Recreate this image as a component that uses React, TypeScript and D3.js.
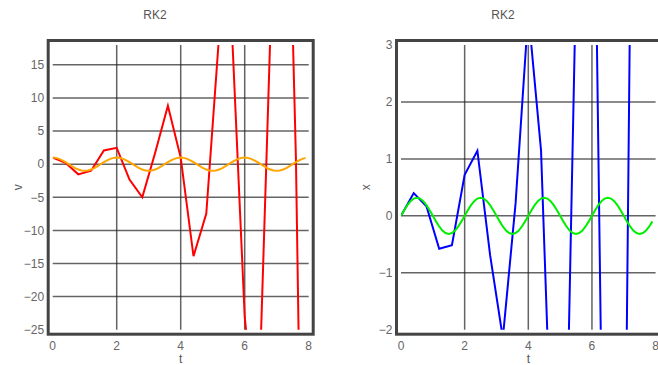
import { useEffect, useRef } from 'react';
import * as d3 from 'd3';

// RK2 samples, h = 0.4
const stepT = [0, 0.4, 0.8, 1.2, 1.6, 2.0, 2.4, 2.8, 3.2, 3.6, 4.0, 4.4, 4.8, 5.2, 5.6, 6.0, 6.4, 6.8, 7.2, 7.6, 8.0];
const rk2V = [1, 0.21, -1.535, -0.988, 2.076, 2.477, -2.328, -5.001, 1.674, 8.823, 0.995, -13.905, -7.468, 19.431, 20.301, -23.0, -42.637, 19.395, 77.38, 1.08, -125.165];
const rk2X = [0, 0.4, 0.168, -0.579, -0.517, 0.722, 1.143, -0.691, -2.146, 0.218, 3.575, 1.15, -5.32, -4.107, 6.908, 9.574, -7.185, -18.567, 3.851, 31.762, 7.116];

// reference curve, t = 0 .. 7.9 every 0.1
const fineT = [
  0, 0.1, 0.2, 0.3, 0.4, 0.5, 0.6, 0.7, 0.8, 0.9, 1.0, 1.1, 1.2, 1.3, 1.4, 1.5, 1.6, 1.7, 1.8, 1.9,
  2.0, 2.1, 2.2, 2.3, 2.4, 2.5, 2.6, 2.7, 2.8, 2.9, 3.0, 3.1, 3.2, 3.3, 3.4, 3.5, 3.6, 3.7, 3.8, 3.9,
  4.0, 4.1, 4.2, 4.3, 4.4, 4.5, 4.6, 4.7, 4.8, 4.9, 5.0, 5.1, 5.2, 5.3, 5.4, 5.5, 5.6, 5.7, 5.8, 5.9,
  6.0, 6.1, 6.2, 6.3, 6.4, 6.5, 6.6, 6.7, 6.8, 6.9, 7.0, 7.1, 7.2, 7.3, 7.4, 7.5, 7.6, 7.7, 7.8, 7.9,
];
const exactV = [
  1, 0.951, 0.809, 0.588, 0.309, 0, -0.309, -0.588, -0.809, -0.951, -1, -0.951, -0.809, -0.588, -0.309, 0, 0.309, 0.588, 0.809, 0.951,
  1, 0.951, 0.809, 0.588, 0.309, 0, -0.309, -0.588, -0.809, -0.951, -1, -0.951, -0.809, -0.588, -0.309, 0, 0.309, 0.588, 0.809, 0.951,
  1, 0.951, 0.809, 0.588, 0.309, 0, -0.309, -0.588, -0.809, -0.951, -1, -0.951, -0.809, -0.588, -0.309, 0, 0.309, 0.588, 0.809, 0.951,
  1, 0.951, 0.809, 0.588, 0.309, 0, -0.309, -0.588, -0.809, -0.951, -1, -0.951, -0.809, -0.588, -0.309, 0, 0.309, 0.588, 0.809, 0.951,
];
const exactX = [
  0, 0.098, 0.187, 0.258, 0.303, 0.318, 0.303, 0.258, 0.187, 0.098, 0, -0.098, -0.187, -0.258, -0.303, -0.318, -0.303, -0.258, -0.187, -0.098,
  0, 0.098, 0.187, 0.258, 0.303, 0.318, 0.303, 0.258, 0.187, 0.098, 0, -0.098, -0.187, -0.258, -0.303, -0.318, -0.303, -0.258, -0.187, -0.098,
  0, 0.098, 0.187, 0.258, 0.303, 0.318, 0.303, 0.258, 0.187, 0.098, 0, -0.098, -0.187, -0.258, -0.303, -0.318, -0.303, -0.258, -0.187, -0.098,
  0, 0.098, 0.187, 0.258, 0.303, 0.318, 0.303, 0.258, 0.187, 0.098, 0, -0.098, -0.187, -0.258, -0.303, -0.318, -0.303, -0.258, -0.187, -0.098,
];

const tTicks = [0, 2, 4, 6, 8];
const vTicks = [15, 10, 5, 0, -5, -10, -15, -20, -25];
const xTicks = [3, 2, 1, 0, -1, -2];

const FONT = '"Liberation Sans", Arial, sans-serif';

interface PanelSpec {
  id: string;
  left: number;
  right: number;
  yDomain: [number, number];
  yTicks: number[];
  yLabel: string;
  titleX: number;
  approx: number[];
  exact: number[];
  approxColor: string;
  exactColor: string;
}

const panels: PanelSpec[] = [
  {
    id: 'v', left: 52.7, right: 308.7, yDomain: [-25, 18], yTicks: vTicks, yLabel: 'v', titleX: 155,
    approx: rk2V, exact: exactV, approxColor: '#ff0000', exactColor: '#ffa500',
  },
  {
    id: 'x', left: 401, right: 655.6, yDomain: [-2, 3], yTicks: xTicks, yLabel: 'x', titleX: 503,
    approx: rk2X, exact: exactX, approxColor: '#0000ff', exactColor: '#00ee00',
  },
];

const top = 45;
const bottom = 329.7;
const pad = 4.5;

export default function App() {
  const ref = useRef<SVGSVGElement>(null);

  useEffect(() => {
    const svgElement = ref.current;
    if (!svgElement) return;
    const svg = d3.select(svgElement);
    svg.selectAll('*').remove();

    for (const p of panels) {
      const x = d3.scaleLinear().domain([0, 8]).range([p.left, p.right]);
      const y = d3.scaleLinear().domain(p.yDomain).range([bottom, top]);
      const g = svg.append('g');

      g.append('clipPath')
        .attr('id', `clip-${p.id}`)
        .append('rect')
        .attr('x', p.left)
        .attr('y', top)
        .attr('width', p.right - p.left)
        .attr('height', bottom - top);

      // grid, interior ticks only
      const lo = p.yDomain[0];
      const hi = p.yDomain[1];
      g.append('g')
        .selectAll('line')
        .data(p.yTicks.filter((d) => d > lo && d < hi))
        .join('line')
        .attr('x1', p.left)
        .attr('x2', p.right)
        .attr('y1', (d) => y(d))
        .attr('y2', (d) => y(d))
        .attr('stroke', '#222')
        .attr('stroke-opacity', 0.7)
        .attr('stroke-width', 1.5);
      g.append('g')
        .selectAll('line')
        .data(tTicks.filter((d) => d > 0 && d < 8))
        .join('line')
        .attr('x1', (d) => x(d))
        .attr('x2', (d) => x(d))
        .attr('y1', top)
        .attr('y2', bottom)
        .attr('stroke', '#222')
        .attr('stroke-opacity', 0.7)
        .attr('stroke-width', 1.5);

      const exactLine = d3
        .line<number>()
        .x((_d, i) => x(fineT[i]))
        .y((d) => y(d));
      const approxLine = d3
        .line<number>()
        .x((_d, i) => x(stepT[i]))
        .y((d) => y(d));

      const lines = g.append('g').attr('clip-path', `url(#clip-${p.id})`);
      lines.append('path')
        .attr('d', approxLine(p.approx))
        .attr('fill', 'none')
        .attr('stroke', p.approxColor)
        .attr('stroke-width', 2);
      lines.append('path')
        .attr('d', exactLine(p.exact))
        .attr('fill', 'none')
        .attr('stroke', p.exactColor)
        .attr('stroke-width', 2);

      // frame
      g.append('rect')
        .attr('x', p.left - pad)
        .attr('y', top - pad)
        .attr('width', p.right - p.left + 2 * pad)
        .attr('height', bottom - top + 2 * pad)
        .attr('fill', 'none')
        .attr('stroke', '#444')
        .attr('stroke-width', 3);

      // tick labels
      g.append('g')
        .selectAll('text')
        .data(p.yTicks)
        .join('text')
        .attr('x', p.left - pad - 4)
        .attr('y', (d) => y(d))
        .attr('dy', '0.36em')
        .attr('text-anchor', 'end')
        .attr('font-family', FONT)
        .attr('font-size', 12)
        .attr('fill', '#666')
        .text((d) => d3.format('')(d).replace('-', '\u2212'));
      g.append('g')
        .selectAll('text')
        .data(tTicks)
        .join('text')
        .attr('x', (d) => x(d))
        .attr('y', 350)
        .attr('text-anchor', 'middle')
        .attr('font-family', FONT)
        .attr('font-size', 12)
        .attr('fill', '#666')
        .text((d) => String(d));

      // axis labels, title
      g.append('text')
        .attr('x', (p.left + p.right) / 2)
        .attr('y', 362.5)
        .attr('text-anchor', 'middle')
        .attr('font-family', FONT)
        .attr('font-size', 12)
        .attr('fill', '#555')
        .text('t');
      g.append('text')
        .attr('transform', `translate(${p.left - 35.5},${(top + bottom) / 2}) rotate(-90)`)
        .attr('dy', '0.36em')
        .attr('text-anchor', 'middle')
        .attr('font-family', FONT)
        .attr('font-size', 12)
        .attr('fill', '#555')
        .text(p.yLabel);
      g.append('text')
        .attr('x', p.titleX)
        .attr('y', 18.5)
        .attr('text-anchor', 'middle')
        .attr('font-family', FONT)
        .attr('font-size', 12)
        .attr('fill', '#555')
        .text('RK2');
    }
  }, []);

  return (
    <svg
      ref={ref}
      width={658}
      height={365}
      style={{ position: 'absolute', left: 0, top: 0, background: '#fff' }}
    />
  );
}
